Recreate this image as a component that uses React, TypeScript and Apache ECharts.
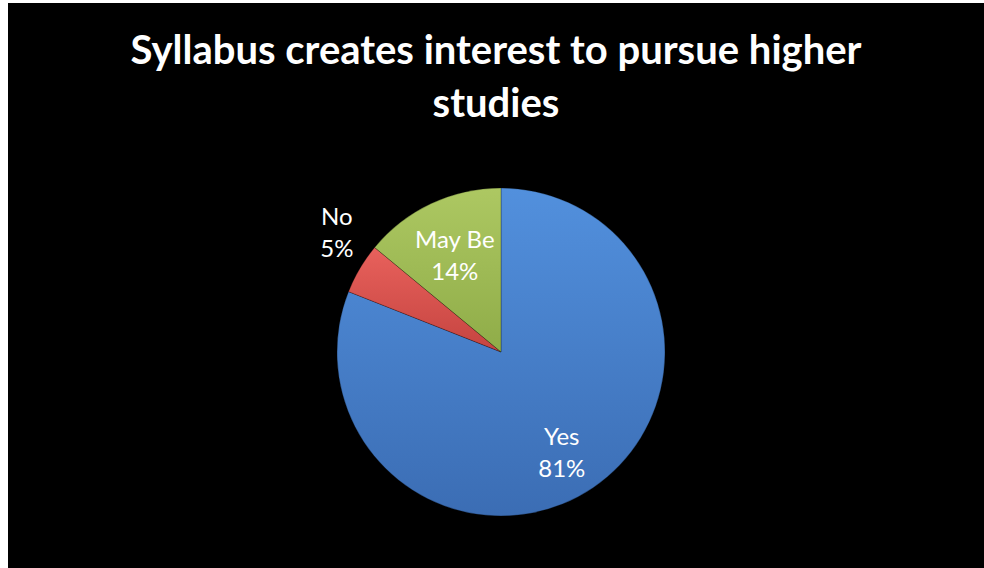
import React, { useEffect, useRef } from "react";
import * as echarts from "echarts";

const TITLE = "Syllabus creates interest to pursue higher\nstudies";
const categories = ["Yes", "No", "May Be"];
const values = [81, 5, 14];

const colorStops: [string, string][] = [
  ["#5290dd", "#3b6db4"],
  ["#e8615c", "#c54440"],
  ["#adc862", "#8fac48"],
];
const labelOffsets: [number, number][] = [
  [13, 29],
  [-91, -77],
  [-10, -21],
];

export default function App() {
  const ref = useRef<HTMLDivElement>(null);
  useEffect(() => {
    if (!ref.current) return;
    const chart = echarts.init(ref.current, null, { renderer: "svg" });
    const data = categories.map((name, i) => ({
      name,
      value: values[i],
      itemStyle: {
        color: new echarts.graphic.LinearGradient(0, 0, 0, 1, [
          { offset: 0, color: colorStops[i][0] },
          { offset: 1, color: colorStops[i][1] },
        ]),
      },
      label: { offset: labelOffsets[i] },
    }));
    chart.setOption({
      animation: false,
      backgroundColor: "#000000",
      title: {
        text: TITLE,
        left: "center",
        top: 14,
        textStyle: {
          color: "#ffffff",
          fontFamily: "Lato",
          fontWeight: "bold",
          fontSize: 40,
          lineHeight: 53,
        },
      },
      series: [
        {
          type: "pie",
          center: [493, 349],
          radius: 164,
          startAngle: 90,
          clockwise: true,
          avoidLabelOverlap: false,
          itemStyle: {
            borderColor: "rgba(0,0,0,0.25)",
            borderWidth: 1,
          },
          label: {
            show: true,
            position: "inside",
            color: "#ffffff",
            fontFamily: "Lato",
            fontSize: 24,
            lineHeight: 32,
            formatter: (p: any) => `${p.name}\n${p.value}%`,
          },
          labelLine: { show: false },
          data,
        },
      ],
    });
    return () => chart.dispose();
  }, []);
  return (
    <div
      ref={ref}
      style={{ position: "fixed", left: 8, top: 3, width: 976, height: 565 }}
    />
  );
}
